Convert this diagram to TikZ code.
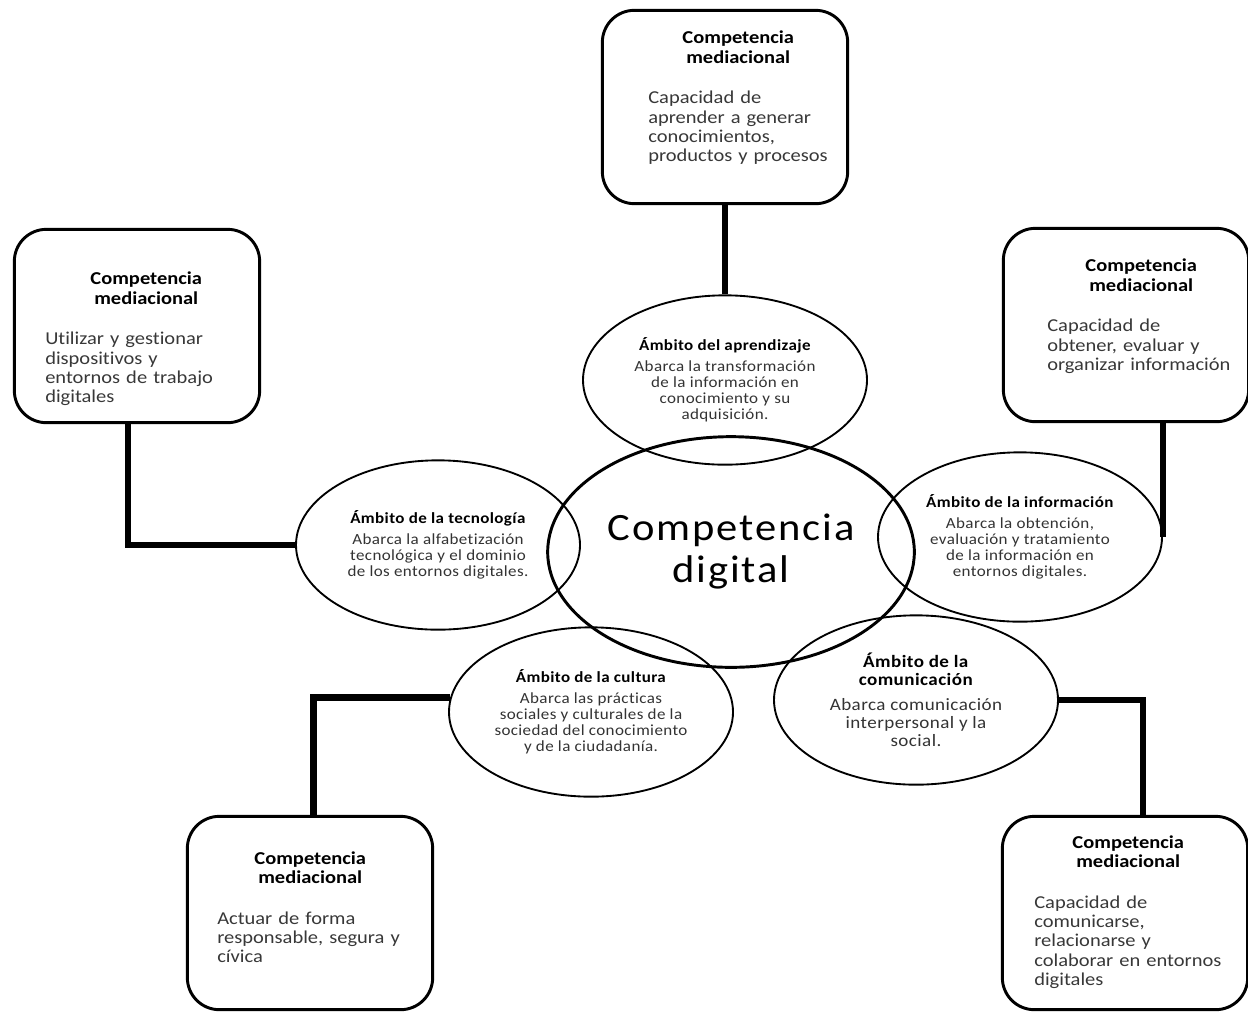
\documentclass[tikz,border=0pt]{standalone}
\usepackage{fontspec}
\setmainfont{Carlito}[FakeStretch=1.13,Ligatures=NoCommon]
\newfontfamily\ambfont{Carlito}[FakeStretch=1.1,LetterSpace=2.5,Ligatures=NoCommon]
\newfontfamily\corefont{Carlito}[FakeStretch=1.1,LetterSpace=5,Ligatures=NoCommon]
\hyphenpenalty=10000
\usetikzlibrary{shapes.geometric}
\tikzstyle{mediabox} = [rectangle, rounded corners=24pt, minimum width=184pt, minimum height=145pt, draw=black, line width=2.2pt]
\tikzstyle{mediatext} = [anchor=north west, inner sep=0pt, align=left, text=black!78, font=\fontsize{13.6}{14.5}\selectfont]
\tikzstyle{ambito} = [ellipse, minimum width=213pt, minimum height=127pt, inner sep=0pt, draw=black, line width=1.4pt, align=center, text=black!80, font=\ambfont\fontsize{11.6}{12}\selectfont]
\tikzstyle{core} = [ellipse, minimum width=275pt, minimum height=173pt, inner sep=0pt, draw=black, line width=2.2pt, align=center, font=\corefont\fontsize{29}{31.5}\selectfont]
\tikzstyle{link} = [line width=5pt]

\begin{document}
\begin{tikzpicture}[x=0.75pt, y=-0.75pt]
\useasboundingbox (0,0) rectangle (1248,1011);
% competencias mediacionales
\node (BoxAprendizaje) [mediabox] at (725,107) {};
\node (BoxTecnologia) [mediabox] at (137,326) {};
\node (BoxInformacion) [mediabox] at (1126,325) {};
\node (BoxCultura) [mediabox] at (310,913) {};
\node (BoxComunicacion) [mediabox] at (1125,913) {};
\node (TxtAprendizaje) [mediatext, text width=135pt] at (648,31) {{\centering\bfseries\color{black}Competencia\\ mediacional\par}\vspace{16pt}Capacidad de\\ aprender a generar\\ conocimientos,\\ productos y procesos};
\node (TxtTecnologia) [mediatext, text width=151.5pt] at (45,272) {{\centering\bfseries\color{black}Competencia\\ mediacional\par}\vspace{16pt}Utilizar y gestionar\\ dispositivos y\\ entornos de trabajo\\ digitales};
\node (TxtInformacion) [mediatext, text width=141pt] at (1047,259) {{\centering\bfseries\color{black}Competencia\\ mediacional\par}\vspace{16pt}Capacidad de\\ obtener, evaluar y\\ organizar información};
\node (TxtCultura) [mediatext, text width=139.5pt] at (217,851) {{\centering\bfseries\color{black}Competencia\\ mediacional\par}\vspace{16pt}Actuar de forma\\ responsable, segura y\\ cívica};
\node (TxtComunicacion) [mediatext, text width=141pt] at (1034,835) {{\centering\bfseries\color{black}Competencia\\ mediacional\par}\vspace{16pt}Capacidad de\\ comunicarse,\\ relacionarse y\\ colaborar en entornos\\ digitales};
% ambitos
\node (CompDigital) [core] at (731,552) {Competencia\\ digital};
\node (Aprendizaje) [ambito] at (725,380) {\textcolor{black}{\textbf{Ámbito del aprendizaje}}\\[3.75pt] Abarca la transformación\\ de la información en\\ conocimiento y su\\ adquisición.};
\node (Tecnologia) [ambito] at (438,545) {\textcolor{black}{\textbf{Ámbito de la tecnología}}\\[3.75pt] Abarca la alfabetización\\ tecnológica y el dominio\\ de los entornos digitales.};
\node (Informacion) [ambito] at (1020,537) {\textcolor{black}{\textbf{Ámbito de la información}}\\[3.75pt] Abarca la obtención,\\ evaluación y tratamiento\\ de la información en\\ entornos digitales.};
\node (Comunicacion) [ambito, font=\ambfont\fontsize{13}{13.5}\selectfont] at (916,700) {\textcolor{black}{\textbf{Ámbito de la}}\\ \textcolor{black}{\textbf{comunicación}}\\[5pt] Abarca comunicación\\ interpersonal y la\\ social.};
\node (Cultura) [ambito] at (591,712) {\textcolor{black}{\textbf{Ámbito de la cultura}}\\[3.75pt] Abarca las prácticas\\ sociales y culturales de la\\ sociedad del conocimiento\\ y de la ciudadanía.};
% conectores
\draw [link] (BoxAprendizaje.south) -- (Aprendizaje.north);
\draw [link] (Tecnologia.west) -| ([xshift=-6.75pt]BoxTecnologia.south);
\draw [link] (Informacion.east) -- (Informacion.east |- BoxInformacion.south);
\draw [link] (Cultura.174) -| ([xshift=2.5pt]BoxCultura.north);
\draw [link] (Comunicacion.east) -| ([xshift=13.5pt]BoxComunicacion.north);
\end{tikzpicture}
\end{document}
